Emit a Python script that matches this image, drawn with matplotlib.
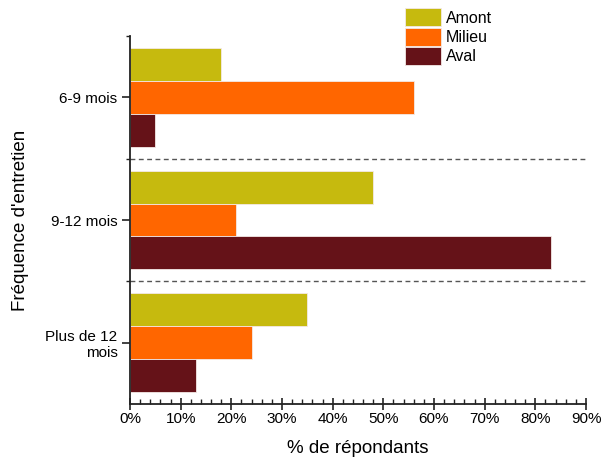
import numpy as np
import matplotlib
matplotlib.use("Agg")
import matplotlib.pyplot as plt
from matplotlib.ticker import MultipleLocator, FixedLocator, FuncFormatter

plt.rcParams['font.family'] = ['Liberation Sans', 'DejaVu Sans']

categories = ["6-9 mois", "9-12 mois", "Plus de 12\nmois"]
series_names = ["Amont", "Milieu", "Aval"]
amont = [18, 48, 35]
milieu = [56, 21, 24]
aval = [5, 83, 13]
colors = ["#C6BA0E", "#FF6600", "#651218"]

fig = plt.figure(figsize=(6.04, 4.66), dpi=100)
ax = fig.add_axes([0.2152, 0.133, 0.7550, 0.7897])

y = np.arange(len(categories))
h = 0.268
for i, (vals, name, col) in enumerate(zip([amont, milieu, aval], series_names, colors)):
    ax.barh(y + (i - 1) * h, vals, height=h, color=col, edgecolor="#f3e9e6",
            linewidth=0.6, label=name, zorder=2)

# Group separators
for yy in [0.5, 1.5]:
    ax.axhline(yy, color="#555555", linestyle=(0, (3.5, 2.5)), linewidth=1.0, zorder=1)

ax.set_xlim(0, 90)
ax.set_ylim(2.5, -0.5)

ax.spines['top'].set_visible(False)
ax.spines['right'].set_visible(False)
for s in ['left', 'bottom']:
    ax.spines[s].set_linewidth(1.3)
    ax.spines[s].set_color("#222222")

ax.xaxis.set_major_locator(MultipleLocator(10))
ax.xaxis.set_minor_locator(MultipleLocator(2))
ax.xaxis.set_major_formatter(FuncFormatter(lambda v, p: f"{v:.0f}%"))
ax.tick_params(axis='x', which='major', direction='inout', length=8, width=1.2,
               labelsize=11, pad=2, color="#222222")
ax.tick_params(axis='x', which='minor', direction='in', length=3.5, width=1.0, color="#222222")

ax.set_yticks(y)
ax.set_yticklabels(categories, ha='right', multialignment='right')
ax.yaxis.set_minor_locator(FixedLocator([-0.5, 0.5, 1.5]))
ax.tick_params(axis='y', which='major', direction='out', length=6, width=1.2,
               labelsize=11, pad=3, color="#222222")
ax.tick_params(axis='y', which='minor', direction='out', length=3, width=1.0, color="#222222")

ax.set_xlabel("% de répondants", fontsize=13.5, labelpad=10)
ax.set_ylabel("Fréquence d'entretien", fontsize=13.5, labelpad=12)

leg = ax.legend(loc='upper left', bbox_to_anchor=(0.603, 1.075), frameon=False,
                fontsize=11.5, handlelength=2.25, handleheight=1.35, handletextpad=0.3,
                labelspacing=0.08, borderpad=0, borderaxespad=0)

fig.savefig("out.png", dpi=100)
